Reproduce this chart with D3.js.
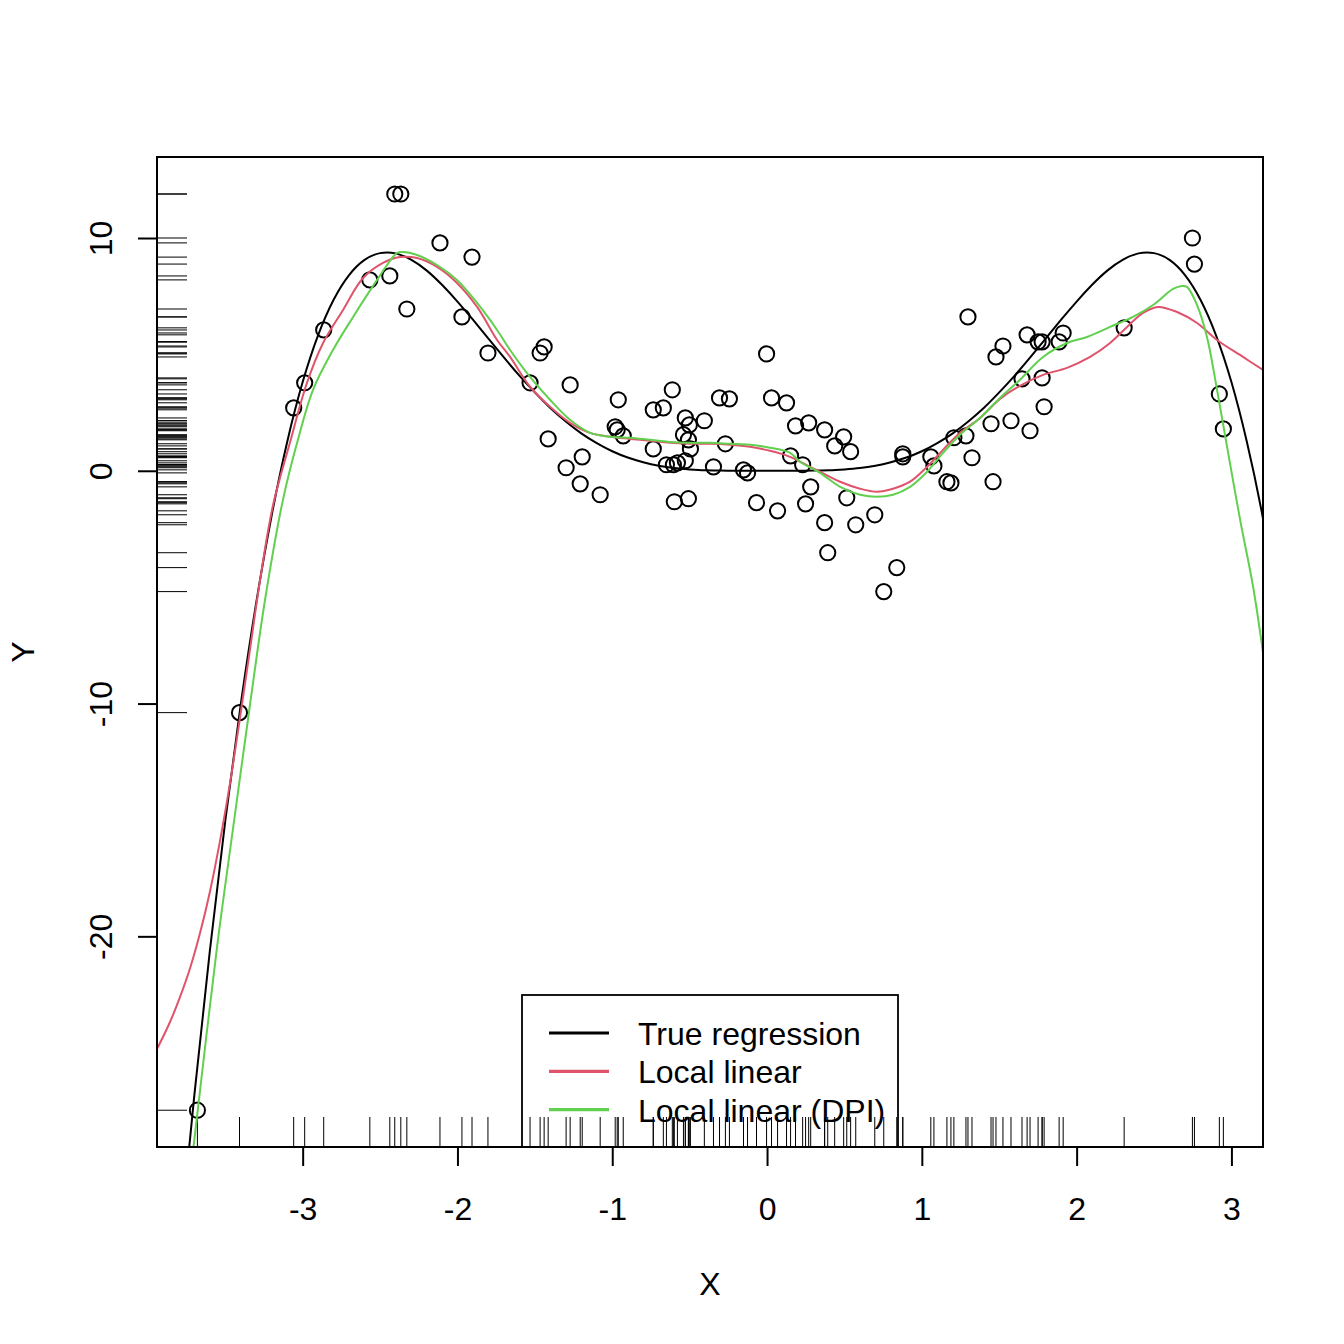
<!DOCTYPE html>
<html><head><meta charset="utf-8">
<script src="https://cdn.jsdelivr.net/npm/d3@7"></script>
<style>body{margin:0;background:#fff}</style>
</head><body>
<svg id="c" width="1344" height="1344" xmlns="http://www.w3.org/2000/svg"></svg>
<script>
// ---- data ----
const xDomain = [-3.941, 3.204];
const yDomain = [-29.05, 13.48];
const xTicks = [-3, -2, -1, 0, 1, 2, 3];
const yTicks = [-20, -10, 0, 10];

const ptX = [-3.680,-3.408,-3.058,-2.987,-2.864,-2.566,-2.437,-2.405,-2.366,-2.327,
 -2.113,-1.906,-1.971,-1.803,-1.531,-1.466,-1.440,-1.272,-1.414,-1.194,
 -1.298,-1.207,-1.078,-0.961,-0.981,-0.968,-0.929,-0.735,-0.670,-0.612,
 -0.735,-0.650,-0.605,-0.579,-0.528,-0.528,-0.502,-0.405,-0.540,-0.508,
 -0.495,-0.599,-0.508,-0.307,-0.243,-0.269,-0.346,-0.152,-0.126,-0.068,
 0.068,-0.003,0.029,0.126,0.184,0.269,0.372,0.495,0.437,0.540,
 0.152,0.230,0.282,0.249,0.515,0.372,0.573,0.696,0.392,0.838,
 0.754,0.877,0.877,1.058,1.078,1.162,1.188,1.207,1.285,1.324,
 1.447,1.576,1.460,1.479,1.524,1.647,2.748,2.761,1.298,1.680,
 1.751,1.777,1.913,1.887,1.777,1.790,1.699,2.307,2.922,2.948];
const ptY = [-27.47,-10.39,2.70,3.78,6.05,8.20,8.37,11.89,11.89,6.95,
 9.79,9.18,6.61,5.06,3.78,5.06,5.32,3.69,1.37,0.60,
 0.13,-0.56,-1.03,3.05,1.89,1.76,1.50,2.62,2.70,3.48,
 0.94,0.26,0.26,0.34,0.43,2.27,1.97,2.15,1.55,1.33,
 0.94,-1.33,-1.20,3.13,3.09,1.16,0.17,0.04,-0.09,-1.37,
 -1.72,5.02,3.13,2.92,1.93,2.06,1.76,1.46,1.07,0.82,
 0.64,0.26,-0.69,-1.42,-1.16,-2.23,-2.32,-1.89,-3.52,-4.16,
 -5.19,0.60,0.73,0.60,0.21,-0.47,-0.52,1.42,1.50,0.56,
 2.02,2.15,-0.47,4.89,5.36,3.95,10.0,8.88,6.61,5.84,
 5.54,5.54,5.92,5.54,3.99,2.75,1.72,6.14,3.30,1.80];

const trueX = [-3.8,-3.7,-3.6,-3.5,-3.4,-3.3,-3.2,-3.1,-3.0,-2.9,-2.8,-2.7,-2.6,-2.5,-2.4,-2.3,-2.2,-2.1,-2.0,
 -1.9,-1.8,-1.7,-1.6,-1.5,-1.4,-1.3,-1.2,-1.1,-1.0,-0.9,-0.8,-0.7,-0.6,-0.5,-0.4,-0.3,-0.2,-0.1,0,
 0.1,0.2,0.3,0.4,0.5,0.6,0.7,0.8,0.9,1.0,1.1,1.2,1.3,1.4,1.5,1.6,1.7,1.8,1.9,2.0,
 2.1,2.2,2.3,2.4,2.5,2.6,2.7,2.8,2.9,3.0,3.1,3.2,3.3];
const trueY = [-33.58,-26.84,-20.65,-15.04,-10.04,-5.67,-1.91,1.24,3.81,5.83,7.35,8.41,9.06,9.35,9.34,9.07,8.61,7.99,7.27,
 6.49,5.68,4.87,4.09,3.37,2.70,2.12,1.61,1.19,0.84,0.57,0.37,0.22,0.12,0.06,0.02,0.01,0.00,0.00,0,
 0.00,0.00,0.01,0.02,0.06,0.12,0.22,0.37,0.57,0.84,1.19,1.61,2.12,2.70,3.37,4.09,4.87,5.68,6.49,7.27,
 7.99,8.61,9.07,9.34,9.35,9.06,8.41,7.35,5.83,3.81,1.24,-1.91,-5.67];

const linX = [-3.941,-3.857,-3.792,-3.727,-3.663,-3.598,-3.534,-3.469,-3.405,-3.340,-3.275,
 -3.191,-3.081,-2.972,-2.868,-2.739,-2.610,-2.481,-2.371,-2.261,-2.132,
 -2.003,-1.873,-1.744,-1.660,-1.531,-1.402,-1.273,-1.143,-1.014,-0.885,
 -0.756,-0.627,-0.497,-0.368,-0.239,-0.110,0.019,0.149,0.213,0.342,
 0.472,0.601,0.711,0.814,0.924,1.034,1.137,1.247,1.376,1.505,
 1.634,1.783,1.938,2.087,2.216,2.326,2.429,2.526,2.649,2.778,
 2.907,3.075,3.204];
const linY = [-24.84,-23.68,-22.60,-21.36,-19.86,-18.05,-15.90,-13.41,-10.62,-7.66,-4.69,
 -1.47,1.24,3.78,5.49,6.91,8.28,8.93,9.18,9.14,8.76,
 8.07,7.04,5.62,4.89,3.61,2.75,2.06,1.63,1.46,1.37,
 1.29,1.20,1.16,1.16,1.12,1.03,0.86,0.60,0.39,-0.04,
 -0.47,-0.77,-0.90,-0.77,-0.47,0.17,0.90,1.63,2.27,3.09,
 3.65,4.12,4.42,4.89,5.49,6.18,6.78,7.04,6.82,6.35,
 5.62,4.89,4.33];

const dpiX = [-3.706,-3.555,-3.448,-3.340,-3.243,-3.127,-3.036,-2.933,-2.804,-2.674,
 -2.519,-2.390,-2.351,-2.261,-2.132,-2.003,-1.873,-1.744,-1.660,-1.531,
 -1.402,-1.273,-1.143,-1.014,-0.885,-0.756,-0.627,-0.497,-0.368,-0.239,
 -0.110,0.019,0.149,0.213,0.342,0.472,0.601,0.711,0.814,0.924,
 1.034,1.137,1.247,1.376,1.505,1.634,1.783,1.938,2.067,2.216,
 2.364,2.494,2.623,2.681,2.713,2.778,2.842,2.907,2.972,3.056,
 3.140,3.204];
const dpiY = [-29.1,-20.56,-15.28,-10.04,-5.54,-1.24,1.20,3.48,5.19,6.61,
 8.20,9.36,9.40,9.27,8.84,8.20,7.21,6.05,5.19,4.03,
 3.05,2.19,1.63,1.46,1.42,1.33,1.24,1.20,1.20,1.16,
 1.12,0.99,0.77,0.39,-0.09,-0.69,-1.03,-1.12,-1.03,-0.69,
 -0.04,0.77,1.55,2.27,3.13,3.91,4.89,5.49,5.75,6.18,
 6.61,7.12,7.81,7.94,7.90,7.12,5.75,3.48,1.03,-2.10,
 -4.98,-7.81];

const legendLabels = ["True regression", "Local linear", "Local linear (DPI)"];
const legendColors = ["#000000", "#DF536B", "#61D04F"];

// ---- drawing ----
const FONT = "'Liberation Sans', Arial, Helvetica, sans-serif";
const L = 157, R = 1263, T = 157, B = 1147;
const svg = d3.select("#c");
svg.append("rect").attr("width",1344).attr("height",1344).attr("fill","#fff");

const x = d3.scaleLinear().domain(xDomain).range([L, R]);
const y = d3.scaleLinear().domain(yDomain).range([B, T]);

svg.append("clipPath").attr("id","clip")
  .append("rect").attr("x",L).attr("y",T).attr("width",R-L).attr("height",B-T);

// axes
const gx = svg.append("g").attr("transform",`translate(0,${B})`)
  .call(d3.axisBottom(x).tickValues(xTicks).tickSize(19).tickFormat(d3.format("d")));
gx.select(".domain").remove();
gx.selectAll("line").attr("stroke","#000").attr("stroke-width",2);
gx.selectAll("text").attr("y",72.5).attr("dy",null).attr("fill","#000")
  .style("font-family",FONT).style("font-size","32px").text(d => d < 0 ? "-" + Math.abs(d) : d);

const gy = svg.append("g").attr("transform",`translate(${L},0)`)
  .call(d3.axisLeft(y).tickValues(yTicks).tickSize(19));
gy.select(".domain").remove();
gy.selectAll("line").attr("stroke","#000").attr("stroke-width",2);
gy.selectAll("text").attr("x",null).attr("dy",null).attr("y",null)
  .attr("text-anchor","middle").attr("fill","#000")
  .attr("transform","translate(-45,0) rotate(-90)")
  .style("font-family",FONT).style("font-size","32px").text(d => d < 0 ? "-" + Math.abs(d) : d);

// axis titles
svg.append("text").attr("x",(L+R)/2).attr("y",1294.5).attr("text-anchor","middle")
  .style("font-family",FONT).style("font-size","32px").text("X");
svg.append("text").attr("transform",`translate(33.5,${(T+B)/2}) rotate(-90)`).attr("text-anchor","middle")
  .style("font-family",FONT).style("font-size","32px").text("Y");

// points
const pts = ptX.map((v,i)=>({x:v,y:ptY[i]}));
svg.append("g").selectAll("circle").data(pts).join("circle")
  .attr("cx",d=>x(d.x)).attr("cy",d=>y(d.y)).attr("r",7.6)
  .attr("fill","none").attr("stroke","#000").attr("stroke-width",2);

// rugs
const rug = svg.append("g").attr("clip-path","url(#clip)");
rug.selectAll("line.rx").data(ptX).join("line").attr("class","rx")
  .attr("x1",d=>x(d)).attr("x2",d=>x(d)).attr("y1",B).attr("y2",B-30)
  .attr("stroke","#000").attr("stroke-width",1);
rug.selectAll("line.ry").data(ptY).join("line").attr("class","ry")
  .attr("y1",d=>y(d)).attr("y2",d=>y(d)).attr("x1",L).attr("x2",L+30)
  .attr("stroke","#000").attr("stroke-width",1);

// curves
const cg = svg.append("g").attr("clip-path","url(#clip)");
const mk = (xs, ys) => xs.map((v,i)=>[v, ys[i]]);
const lineNat = d3.line().x(d=>x(d[0])).y(d=>y(d[1])).curve(d3.curveNatural);
const lineCR = d3.line().x(d=>x(d[0])).y(d=>y(d[1])).curve(d3.curveCatmullRom.alpha(0.5));
cg.append("path").attr("d",lineNat(mk(trueX,trueY))).attr("fill","none")
  .attr("stroke",legendColors[0]).attr("stroke-width",2);
cg.append("path").attr("d",lineCR(mk(linX,linY))).attr("fill","none")
  .attr("stroke",legendColors[1]).attr("stroke-width",2);
cg.append("path").attr("d",lineCR(mk(dpiX,dpiY))).attr("fill","none")
  .attr("stroke",legendColors[2]).attr("stroke-width",2);

// legend
const lg = svg.append("g");
lg.append("rect").attr("x",522).attr("y",995).attr("width",376).attr("height",B-995)
  .attr("fill","none").attr("stroke","#000").attr("stroke-width",1.8);
const rowY = [1033, 1071.3, 1109.6];
legendLabels.forEach((lab,i)=>{
  lg.append("line").attr("x1",549).attr("x2",609).attr("y1",rowY[i]).attr("y2",rowY[i])
    .attr("stroke",legendColors[i]).attr("stroke-width",3.2);
  lg.append("text").attr("x",638).attr("y",rowY[i]+12).style("font-family",FONT)
    .style("font-size","32px").attr("fill","#000").text(lab);
});

// box
svg.append("rect").attr("x",L).attr("y",T).attr("width",R-L).attr("height",B-T)
  .attr("fill","none").attr("stroke","#000").attr("stroke-width",2);
</script>
</body></html>
